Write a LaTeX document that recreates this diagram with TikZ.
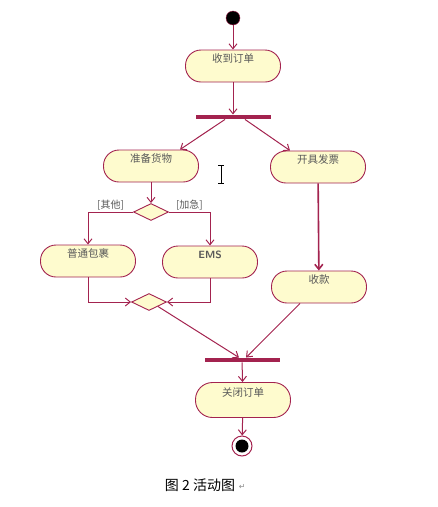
\documentclass[tikz,border=0pt]{standalone}
\usepackage{fontspec}
\newfontfamily\cjk{Noto Sans CJK SC}
\newfontfamily\symfont{DejaVu Sans}
\usetikzlibrary{positioning}
\usetikzlibrary{shapes.geometric}
\usetikzlibrary{arrows.meta}
\definecolor{umlred}{HTML}{A3234F}
\definecolor{umlfill}{HTML}{FEFBCE}
\tikzset{action/.style={shape=rectangle, rounded corners=15.5pt, minimum width=95pt, minimum height=32pt, draw=umlred, fill=umlfill,
    line width=0.9pt, text=black!65, font=\cjk\fontsize{10.5}{10.5}\selectfont, text height=6pt, text depth=13pt},
  bar/.style={shape=rectangle, fill=umlred, minimum width=75pt, minimum height=4.5pt, inner sep=0pt},
  branch/.style={shape=diamond, draw=umlred, fill=umlfill, line width=0.9pt, minimum width=35pt, minimum height=17pt, inner sep=0pt},
  guard/.style={text=black!65, font=\cjk\fontsize{10}{10}\selectfont, inner sep=1.5pt},
  flow/.style={draw=umlred, line width=1pt, -{Straight Barb[length=5pt,width=8pt]}}}

\begin{document}
\begin{tikzpicture}[x=1pt, y=-1pt]
  \useasboundingbox (0,0) rectangle (438,507);
  \node[circle, fill=black, draw=umlred, minimum size=14pt, inner sep=0pt] (start) at (233,18) {};
  \node[action] (recv) at (233,66) {收到订单};
  \node[bar] (fork) at (233,117) {};
  \node[action] (prep) at (151,166) {准备货物};
  \node[action] (inv) at (318,167) {开具发票};
  \node[branch] (dec) at (151,212) {};
  \node[action] (normal) at (88,261) {普通包裹};
  \node[action, font=\sffamily\bfseries\fontsize{10.5}{10.5}\selectfont] (ems) at (210,262) {EMS};
  \node[branch] (merge) at (149,302) {};
  \node[action] (pay) at (319,287) {收款};
  \node[bar] (join) at (242,360) {};
  \node[action, minimum height=35pt, rounded corners=17pt] (close) at (243,400) {关闭订单};
  \node[circle, draw=umlred, fill=white, line width=1pt, minimum size=20pt, inner sep=0pt,
    path picture={\fill[black] (path picture bounding box.center) circle (6.5pt);}] (end) at (242,446) {};
  \node[font=\cjk\fontsize{14}{14}\selectfont] (caption) at (200,485) {图 2 活动图};
  \node[right=0pt of caption, font=\symfont\fontsize{8}{8}\selectfont, text=black!45, inner sep=0pt, yshift=-2pt] (mark) {↵};

  \draw[flow] (start) -- (recv);
  \draw[flow] (recv) -- (fork);
  \draw[flow] ([xshift=-8pt]fork.south) -- ([xshift=29pt]prep.north);
  \draw[flow] ([xshift=12pt]fork.south) -- ([xshift=-28pt]inv.north);
  \draw[flow] (prep) -- (dec);
  \draw[flow] (dec.west) -| node[guard, pos=0.25, above] {[其他]} (normal.north);
  \draw[flow] (dec.east) -| node[guard, pos=0.25, above] {[加急]} (ems.north);
  \draw[flow] (normal.south) |- (merge.west);
  \draw[flow] (ems.south) |- (merge.east);
  \draw[flow, line width=1.6pt] (inv) -- (pay);
  \draw[flow] (merge.south east) -- ([xshift=-3pt]join.north);
  \draw[flow] ([xshift=-19pt]pay.south) -- ([xshift=4pt]join.north);
  \draw[flow] (join) -- (close);
  \draw[flow] (close) -- (end);

  % text cursor
  \draw[black, line width=0.9pt] (221,165) -- (221,183) (218,165) -- (224,165) (218,183) -- (224,183);
\end{tikzpicture}
\end{document}
